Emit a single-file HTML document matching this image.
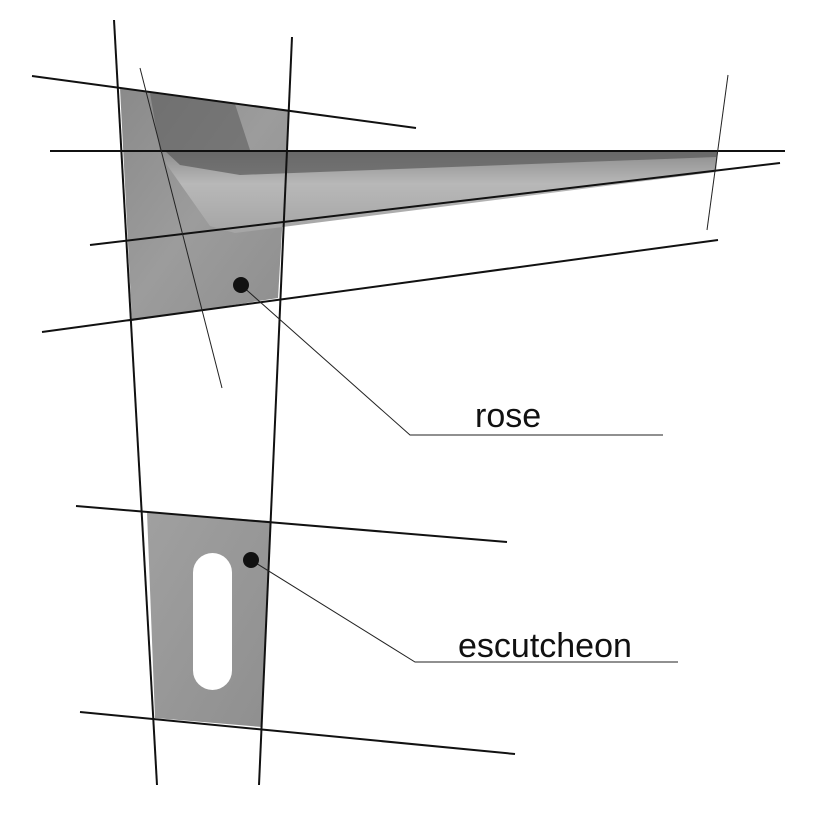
<!DOCTYPE html>
<html><head><meta charset="utf-8"><style>html,body{margin:0;padding:0;background:#fff}svg{display:block}</style></head>
<body>
<svg width="818" height="818" viewBox="0 0 818 818" xmlns="http://www.w3.org/2000/svg">
<defs>
<linearGradient id="g1" x1="0" y1="0" x2="1" y2="1"><stop offset="0" stop-color="#8a8a8a"/><stop offset="0.5" stop-color="#9c9c9c"/><stop offset="1" stop-color="#8e8e8e"/></linearGradient>
<linearGradient id="g2" x1="0" y1="0" x2="0" y2="1"><stop offset="0" stop-color="#8c8c8c"/><stop offset="0.4" stop-color="#b8b8b8"/><stop offset="1" stop-color="#a5a5a5"/></linearGradient>
<linearGradient id="g3" x1="0" y1="0" x2="1" y2="1"><stop offset="0" stop-color="#a0a0a0"/><stop offset="1" stop-color="#8f8f8f"/></linearGradient>
</defs>
<polygon points="120,88 289,111 278,298 132,321" fill="url(#g1)"/>
<polygon points="150,93 235,104 250,150 160,151" fill="#5e5e5e" opacity="0.6"/>
<polygon points="160,151 718,151 716,172 235,233 210,226 167,165" fill="url(#g2)"/>
<polygon points="165,151 718,151 716,157 240,175 180,165" fill="#5a5a5a" opacity="0.7"/>
<polygon points="147,512 270,521 262,727 155,718" fill="url(#g3)"/>
<rect x="193" y="553" width="39" height="137" rx="19.5" fill="#fff"/>
<g stroke="#111" stroke-width="2" fill="none">
<line x1="114" y1="20" x2="157" y2="785"/>
<line x1="292" y1="37" x2="259" y2="785"/>
<line x1="32" y1="76" x2="416" y2="128"/>
<line x1="50" y1="151" x2="785" y2="151"/>
<line x1="90" y1="245" x2="780" y2="163"/>
<line x1="42" y1="332" x2="718" y2="240"/>
<line x1="76" y1="506" x2="507" y2="542"/>
<line x1="80" y1="712" x2="515" y2="754"/>
</g>
<g stroke="#222" stroke-width="1" fill="none">
<line x1="140" y1="68" x2="222" y2="388"/>
<line x1="728" y1="75" x2="707" y2="230"/>
<polyline points="241,285 410,435 663,435"/>
<polyline points="251,560 415,662 678,662"/>
</g>
<circle cx="241" cy="285" r="8" fill="#111"/>
<circle cx="251" cy="560" r="8" fill="#111"/>
<text x="475" y="427" font-family="Liberation Sans, sans-serif" font-size="34" fill="#111">rose</text>
<text x="458" y="657" font-family="Liberation Sans, sans-serif" font-size="34" fill="#111">escutcheon</text>
</svg>
</body></html>
